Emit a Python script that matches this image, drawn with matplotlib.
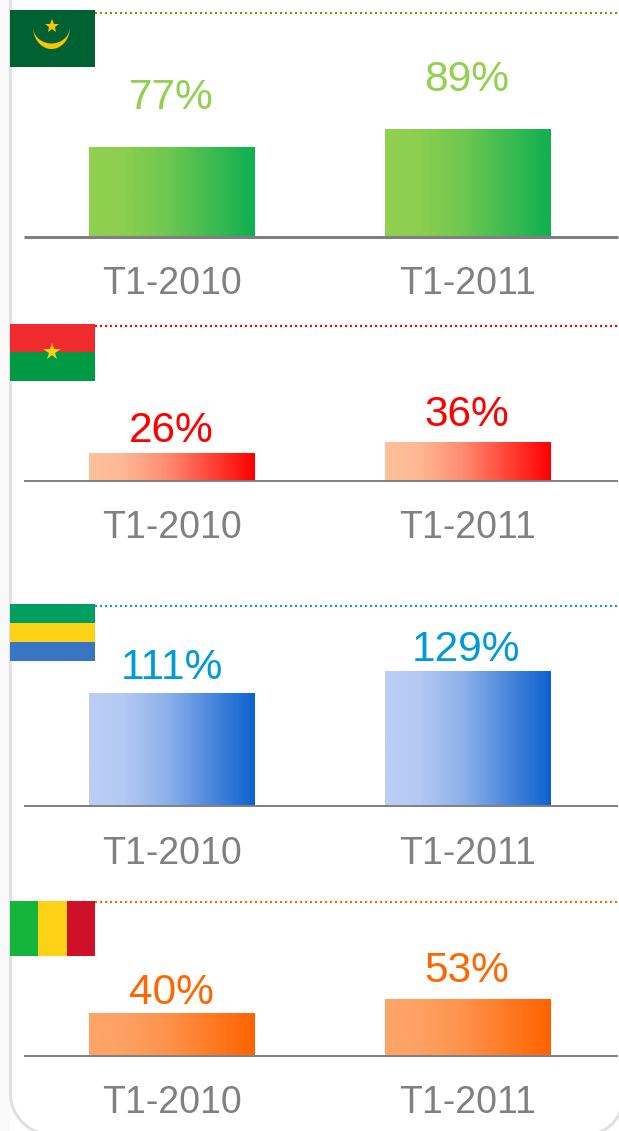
import numpy as np
import matplotlib
matplotlib.use("Agg")
import matplotlib.pyplot as plt
from matplotlib.colors import LinearSegmentedColormap
from matplotlib.patches import Rectangle

plt.rcParams['font.family'] = ['Liberation Sans', 'DejaVu Sans']

# data
periods = ["T1-2010", "T1-2011"]
mauritania = [77, 89]
burkina = [26, 36]
gabon = [111, 129]
mali = [40, 53]

W, H = 619, 1131
fig = plt.figure(figsize=(W / 100, H / 100), dpi=100, facecolor='white')

# background layer in pixel coordinates, y going down
bg = fig.add_axes([0, 0, 1, 1])
bg.set_xlim(0, W)
bg.set_ylim(H, 0)
bg.axis('off')


def to_rect(left, top, right, bottom):
    return [left / W, 1 - bottom / H, (right - left) / W, (bottom - top) / H]


def flag_rect(x, y, w, h, color):
    bg.add_patch(Rectangle((x, y), w, h, facecolor=color, edgecolor='none', zorder=3))


# card border with rounded corners
t = np.linspace(np.pi, np.pi / 2, 40)
left_x = np.concatenate([[10.5], 51.5 + 41 * np.cos(t)])
left_y = np.concatenate([[0], 1093.5 + 41 * np.sin(t)])
bg.fill_betweenx([0, H], 0, 10, color='#f9f9f9', lw=0, zorder=0)
bg.plot(left_x, left_y, color='#e0e0e0', lw=2.2, zorder=1)
t = np.linspace(np.pi / 2, 0, 30)
bg.plot(583 + 41 * np.cos(t), 1095 + 41 * np.sin(t), color='#e0e0e0', lw=2.2, zorder=1)

# dotted separators
for y, c in [(12.5, '#6aa100'), (325.5, '#ff0000'), (605.5, '#0f9ed8'), (902, '#ff6600')]:
    bg.plot([10, W], [y, y], color=c, lw=1.5, ls=(0, (1, 1.4)), zorder=2)

# flags
flag_rect(10, 10, 85, 57, '#006233')
ang = np.linspace(0, np.pi, 60)
outer_x = 51.5 + 18.6 * np.cos(ang)
outer_y = 26.5 + 22.5 * np.sin(ang)
inner_x = 51.5 + 18.6 * np.cos(ang[::-1])
inner_y = 26.5 + 17 * np.sin(ang[::-1])
bg.fill(np.r_[outer_x, inner_x], np.r_[outer_y, inner_y], color='#ffc400', lw=0, zorder=4)
bg.plot([51.7], [25.5], marker='*', ms=10, color='#ffc400', mew=0, zorder=4)

flag_rect(10, 324, 85, 28, '#ef2b2d')
flag_rect(10, 352, 85, 29, '#009a44')
bg.plot([51.5], [351.5], marker='*', ms=13, color='#fcd116', mew=0, zorder=4)

flag_rect(10, 604, 85, 19, '#009e60')
flag_rect(10, 623, 85, 19, '#fcd116')
flag_rect(10, 642, 85, 19, '#3a75c4')

flag_rect(10, 900.5, 28.3, 55.5, '#14b53a')
flag_rect(38.3, 900.5, 28.3, 55.5, '#fcd116')
flag_rect(66.6, 900.5, 28.4, 55.5, '#ce1126')


def panel(values, top, base, scale, ymin, grad, label_color, gaps, line_w):
    ax = fig.add_axes(to_rect(24, top, 617.5, base))
    ax.patch.set_alpha(0)
    xlim = (-0.5, 1.505)
    ylim = (ymin, ymin + (base - top) / scale)
    bars = ax.bar(range(2), [v - ymin for v in values], bottom=ymin, width=0.56, color='none')
    cmap = LinearSegmentedColormap.from_list('g', grad)
    # gradient stays light on the left and speeds up towards the right
    g = np.interp(np.linspace(0, 1, 256), [0, 0.2, 0.47, 0.75, 1], [0, 0.04, 0.27, 0.66, 1]).reshape(1, -1)
    for b, v, gap, dx in zip(bars, values, gaps, [-0.5, -1.7]):
        x0 = b.get_x()
        ax.imshow(g, extent=(x0, x0 + b.get_width(), ymin, v), cmap=cmap, vmin=0, vmax=1,
                  aspect='auto', zorder=2)
        ax.annotate(f"{v}%", (x0 + b.get_width() / 2, v), xytext=(dx * 0.72, gap * 0.72),
                    textcoords='offset points', ha='center', va='baseline',
                    fontsize=30.5, color=label_color, annotation_clip=False)
    ax.set_xlim(*xlim)
    ax.set_ylim(*ylim)
    ax.set_xticks(range(2))
    ax.set_xticklabels(periods, fontsize=27, color='#808080')
    ax.tick_params(axis='x', length=0, pad=21.5)
    ax.set_yticks([])
    for s in ['top', 'left', 'right']:
        ax.spines[s].set_visible(False)
    ax.spines['bottom'].set_color('#808080')
    ax.spines['bottom'].set_linewidth(line_w)
    ax.spines['bottom'].set_capstyle('butt')


panel(mauritania, 15, 236.5, 1.5, 17.7, ['#92d050', '#0fb050'], '#92d050', [39, 39], 2.2)
panel(burkina, 330, 480.5, 1.1, 1, ['#fec09a', '#ff0000'], '#ff0000', [11, 16], 1.4)
panel(gabon, 610, 806, 1.222, 19, ['#bccef5', '#0d62d0'], '#0099d9', [15, 11], 1.4)
panel(mali, 906, 1055.5, 1.0, -2, ['#ffa468', '#ff6300'], '#ff6600', [10, 19], 1.4)

fig.savefig('out.png', dpi=100)
